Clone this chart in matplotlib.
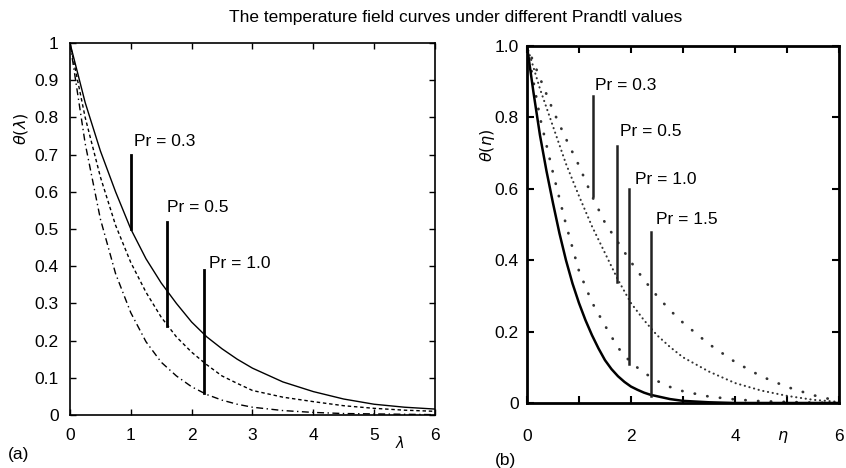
import numpy as np
import matplotlib
matplotlib.use('Agg')
import matplotlib.pyplot as plt

plt.rcParams['font.family'] = ['Liberation Sans', 'DejaVu Sans']

# panel (a): theta(lambda) for three Prandtl numbers
lam = [0, 0.25, 0.5, 0.75, 1.0, 1.25, 1.5, 1.75, 2.0, 2.25, 2.5, 2.75, 3.0,
       3.5, 4.0, 4.5, 5.0, 5.5, 6.0]
theta_a_03 = [1.0, 0.84, 0.71, 0.60, 0.50, 0.42, 0.355, 0.30, 0.25, 0.21, 0.178,
              0.15, 0.126, 0.089, 0.063, 0.043, 0.029, 0.021, 0.016]
theta_a_05 = [1.0, 0.80, 0.64, 0.51, 0.41, 0.33, 0.263, 0.21, 0.169, 0.135, 0.105,
              0.085, 0.066, 0.048, 0.036, 0.025, 0.018, 0.013, 0.010]
theta_a_10 = [1.0, 0.73, 0.527, 0.38, 0.275, 0.197, 0.142, 0.105, 0.076, 0.055, 0.040,
              0.029, 0.021, 0.012, 0.007, 0.004, 0.003, 0.002, 0.001]

# panel (b): theta(eta) for four Prandtl numbers
eta = [0, 0.25, 0.5, 0.75, 1.0, 1.25, 1.5, 1.75, 2.0, 2.25, 2.5, 2.75, 3.0,
       3.5, 4.0, 4.5, 5.0, 5.5, 6.0]
theta_b_03 = [1.0, 0.91, 0.82, 0.74, 0.665, 0.58, 0.505, 0.45, 0.395, 0.345, 0.30,
              0.26, 0.225, 0.165, 0.115, 0.075, 0.045, 0.022, 0.005]
theta_b_05 = [1.0, 0.88, 0.775, 0.67, 0.58, 0.495, 0.42, 0.345, 0.28, 0.232, 0.19,
              0.157, 0.128, 0.088, 0.056, 0.035, 0.02, 0.009, 0.003]
theta_b_10 = [1.0, 0.80, 0.645, 0.50, 0.37, 0.282, 0.217, 0.155, 0.113, 0.085, 0.062,
              0.045, 0.033, 0.018, 0.010, 0.005, 0.003, 0.001, 0.0]
# solid curve read on a finer grid
eta_15 = [0, 0.125, 0.25, 0.375, 0.5, 0.625, 0.75, 0.875, 1.0, 1.125, 1.25, 1.375,
          1.5, 1.625, 1.75, 1.875, 2.0, 2.125, 2.25, 2.375, 2.5, 2.75, 3.0, 3.5,
          4.0, 5.0, 6.0]
theta_b_15 = [1.0, 0.87, 0.75, 0.65, 0.56, 0.475, 0.40, 0.335, 0.28, 0.232, 0.19,
              0.153, 0.12, 0.095, 0.075, 0.059, 0.046, 0.037, 0.029, 0.023, 0.019,
              0.011, 0.006, 0.002, 0.0, 0.0, 0.0]

# annotation markers: (label, x, y_low, y_high, text_x, text_y)
notes_a = [('Pr = 0.3', 1.0, 0.50, 0.70, 1.05, 0.735),
           ('Pr = 0.5', 1.6, 0.24, 0.52, 1.60, 0.558),
           ('Pr = 1.0', 2.2, 0.06, 0.39, 2.28, 0.407)]
notes_b = [('Pr = 0.3', 1.27, 0.58, 0.86, 1.30, 0.89),
           ('Pr = 0.5', 1.73, 0.34, 0.72, 1.78, 0.76),
           ('Pr = 1.0', 1.97, 0.11, 0.60, 2.07, 0.625),
           ('Pr = 1.5', 2.39, 0.02, 0.48, 2.48, 0.515)]

fs = 12.5
fig = plt.figure(figsize=(8.46, 4.68), dpi=100)
fig.text(0.538, 0.962, 'The temperature field curves under different Prandtl values',
         ha='center', va='center', fontsize=12.5)

# ---- panel (a)
ax1 = fig.add_axes([0.0827, 0.1132, 0.4314, 0.7949])
ax1.plot(lam, theta_a_03, color='black', lw=1.0)
ax1.plot(lam, theta_a_05, color='black', lw=1.0, linestyle=(0, (2.5, 2)))
ax1.plot(lam, theta_a_10, color='black', lw=1.0, linestyle=(0, (5, 2.5, 1, 2.5)))
for txt, x, y0, y1, tx, ty in notes_a:
    ax1.plot([x, x], [y0, y1], color='black', lw=2)
    ax1.text(tx, ty, txt, fontsize=fs, ha='left', va='center')
ax1.set_xlim(0, 6)
ax1.set_ylim(0, 1)
ax1.set_xticks(range(7))
ax1.set_xticklabels(['0', '1', '2', '3', '4', '5', '6'])
ax1.set_yticks(np.arange(0, 11) / 10)
ax1.set_yticklabels(['0', '0.1', '0.2', '0.3', '0.4', '0.5', '0.6', '0.7', '0.8', '0.9', '1'])
ax1.tick_params(direction='in', top=True, right=True, length=4, width=1,
                labelsize=fs, pad=8)
ax1.tick_params(axis='x', pad=9)
for s in ax1.spines.values():
    s.set_linewidth(1.2)
ax1.text(-0.135, 0.77, r'$\theta(\lambda)$', transform=ax1.transAxes, rotation=90,
         fontsize=11.5, ha='center', va='center')
ax1.text(0.905, -0.075, r'$\lambda$', transform=ax1.transAxes, fontsize=10.5,
         ha='center', va='center')
fig.text(0.022, 0.028, '(a)', fontsize=fs, ha='center', va='center')

# ---- panel (b)
ax2 = fig.add_axes([0.6229, 0.1389, 0.3688, 0.7628])
ax2.plot(eta, theta_b_03, color='#333333', lw=2.0, linestyle=(0, (0.1, 4.5)),
         dash_capstyle='round')
ax2.plot(eta, theta_b_05, color='#333333', lw=1.5, linestyle=(0, (0.1, 2.2)),
         dash_capstyle='round')
ax2.plot(eta, theta_b_10, color='#333333', lw=2.0, linestyle=(0, (0.1, 4.5)),
         dash_capstyle='round')
ax2.plot(eta_15, theta_b_15, color='black', lw=1.8)
for txt, x, y0, y1, tx, ty in notes_b:
    ax2.plot([x, x], [y0, y1], color='#222222', lw=1.8)
    ax2.text(tx, ty, txt, fontsize=fs, ha='left', va='center')
ax2.set_xlim(0, 6)
ax2.set_ylim(0, 1)
ax2.set_xticks(range(7))
ax2.set_xticklabels(['0', '', '2', '', '4', '', '6'])
ax2.set_yticks([0, 0.2, 0.4, 0.6, 0.8, 1.0])
ax2.set_yticklabels(['0', '0.2', '0.4', '0.6', '0.8', '1.0'])
ax2.tick_params(direction='in', top=True, right=True, length=5, width=1.5,
                labelsize=fs)
ax2.tick_params(axis='x', pad=19)
ax2.tick_params(axis='y', pad=6)
for s in ax2.spines.values():
    s.set_linewidth(2.0)
ax2.text(-0.125, 0.72, r'$\theta(\eta)$', transform=ax2.transAxes, rotation=90,
         fontsize=11.5, ha='center', va='center')
ax2.text(0.82, -0.095, r'$\eta$', transform=ax2.transAxes, fontsize=11.5,
         ha='center', va='center')
fig.text(0.598, 0.017, '(b)', fontsize=fs, ha='center', va='center')

fig.savefig('out.png', dpi=100)
